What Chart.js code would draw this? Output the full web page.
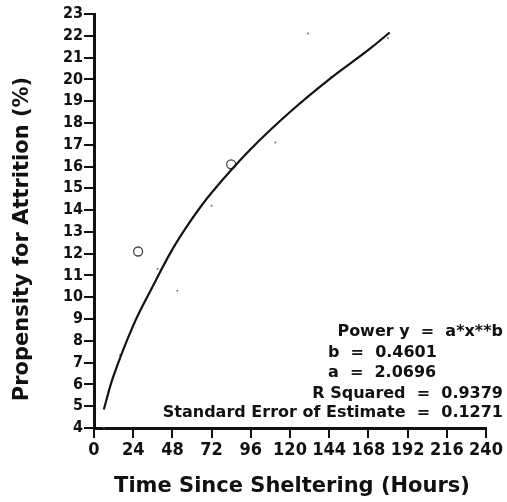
<!DOCTYPE html>
<html lang="en">
<head>
<meta charset="UTF-8">
<title>Propensity for Attrition</title>
<script src="https://cdn.jsdelivr.net/npm/chart.js"></script>
<style>
  html, body { margin: 0; padding: 0; background: #fff; }
</style>
</head>
<body>
<canvas id="attritionChart" width="507" height="502"></canvas>
<script>
// fitted power curve (hours, %)
const fitHours  = [6, 12, 24, 36, 48, 60, 72, 96, 120, 144, 168, 181];
const fitValues = [4.85, 6.4, 8.7, 10.5, 12.2, 13.6, 14.8, 16.8, 18.5, 20.0, 21.35, 22.15];

// observed points drawn as open circles
const circleHours  = [27, 84];
const circleValues = [12.1, 16.1];

// faint specks left in the scan
const speckHours  = [6, 16, 39, 51, 72, 111, 131, 145, 180];
const speckValues = [4.0, 7.35, 11.3, 10.3, 14.2, 17.1, 22.1, 20.1, 21.9];

const xTickLabels = [0, 24, 48, 72, 96, 120, 144, 168, 192, 216, 240];
const yTickLabels = [4, 5, 6, 7, 8, 9, 10, 11, 12, 13, 14, 15, 16, 17, 18, 19, 20, 21, 22, 23];

const xTitle = "Time Since Sheltering (Hours)";
const yTitle = "Propensity for Attrition (%)";
const fitLines = [
    "Power y  =  a*x**b",
    "b  =  0.4601",
    "a  =  2.0696",
    "R Squared  =  0.9379",
    "Standard Error of Estimate  =  0.1271"
];

const ink = "#111";

function pairs(xs, ys) {
    return xs.map((x, i) => ({ x: x, y: ys[i] }));
}

// titles and the fit summary, drawn on top of the chart
const textPlugin = {
    id: "textPlugin",
    afterDraw(chart) {
        const ctx = chart.ctx;
        ctx.save();
        ctx.fillStyle = ink;

        ctx.font = "bold 21px 'DejaVu Sans', sans-serif";
        ctx.textAlign = "center";
        ctx.textBaseline = "alphabetic";
        ctx.fillText(xTitle, 292, 492);

        ctx.save();
        ctx.translate(28, 239);
        ctx.rotate(-Math.PI / 2);
        ctx.fillText(yTitle, 0, 0);
        ctx.restore();

        ctx.font = "bold 16px 'DejaVu Sans', sans-serif";
        ctx.textBaseline = "middle";
        const rows = [332, 353, 373, 394, 413];
        fitLines.forEach((line, i) => {
            if (i === 1 || i === 2) {
                ctx.textAlign = "left";
                ctx.fillText(line, 328, rows[i]);
            } else {
                ctx.textAlign = "right";
                ctx.fillText(line, 503, rows[i]);
            }
        });
        ctx.restore();
    }
};

const tickFamily = "'DejaVu Sans Condensed', 'DejaVu Sans', sans-serif";

new Chart(document.getElementById("attritionChart"), {
    type: "scatter",
    data: {
        datasets: [
            {
                data: pairs(fitHours, fitValues),
                showLine: true,
                borderColor: ink,
                borderWidth: 2.2,
                pointRadius: 0,
                tension: 0.4
            },
            {
                data: pairs(circleHours, circleValues),
                pointRadius: 4.5,
                pointBorderWidth: 1.3,
                pointBorderColor: "#444",
                pointBackgroundColor: "rgba(0,0,0,0)"
            },
            {
                data: pairs(speckHours, speckValues),
                pointRadius: 1,
                pointBorderWidth: 0,
                pointBackgroundColor: "#777"
            }
        ]
    },
    options: {
        responsive: false,
        animation: false,
        layout: { padding: { top: 14, right: 21, left: 0, bottom: 0 } },
        plugins: { legend: { display: false }, tooltip: { enabled: false } },
        scales: {
            x: {
                type: "linear",
                min: 0,
                max: 240,
                afterBuildTicks: s => { s.ticks = xTickLabels.map(v => ({ value: v })); },
                afterFit: s => { s.height = 74; },
                grid: { drawOnChartArea: false, color: ink, lineWidth: 2, tickLength: 10 },
                border: { color: ink, width: 3 },
                ticks: {
                    color: ink,
                    font: { family: tickFamily, size: 18, weight: "bold" },
                    padding: 2,
                    maxRotation: 0,
                    autoSkip: false
                }
            },
            y: {
                min: 4,
                max: 23,
                afterBuildTicks: s => { s.ticks = yTickLabels.map(v => ({ value: v })); },
                afterFit: s => { s.width = 94; },
                grid: { drawOnChartArea: false, color: ink, lineWidth: 2, tickLength: 10 },
                border: { color: ink, width: 3 },
                ticks: {
                    color: ink,
                    font: { family: tickFamily, size: 16, weight: "bold" },
                    padding: 1,
                    autoSkip: false
                }
            }
        }
    },
    plugins: [textPlugin]
});
</script>
</body>
</html>
